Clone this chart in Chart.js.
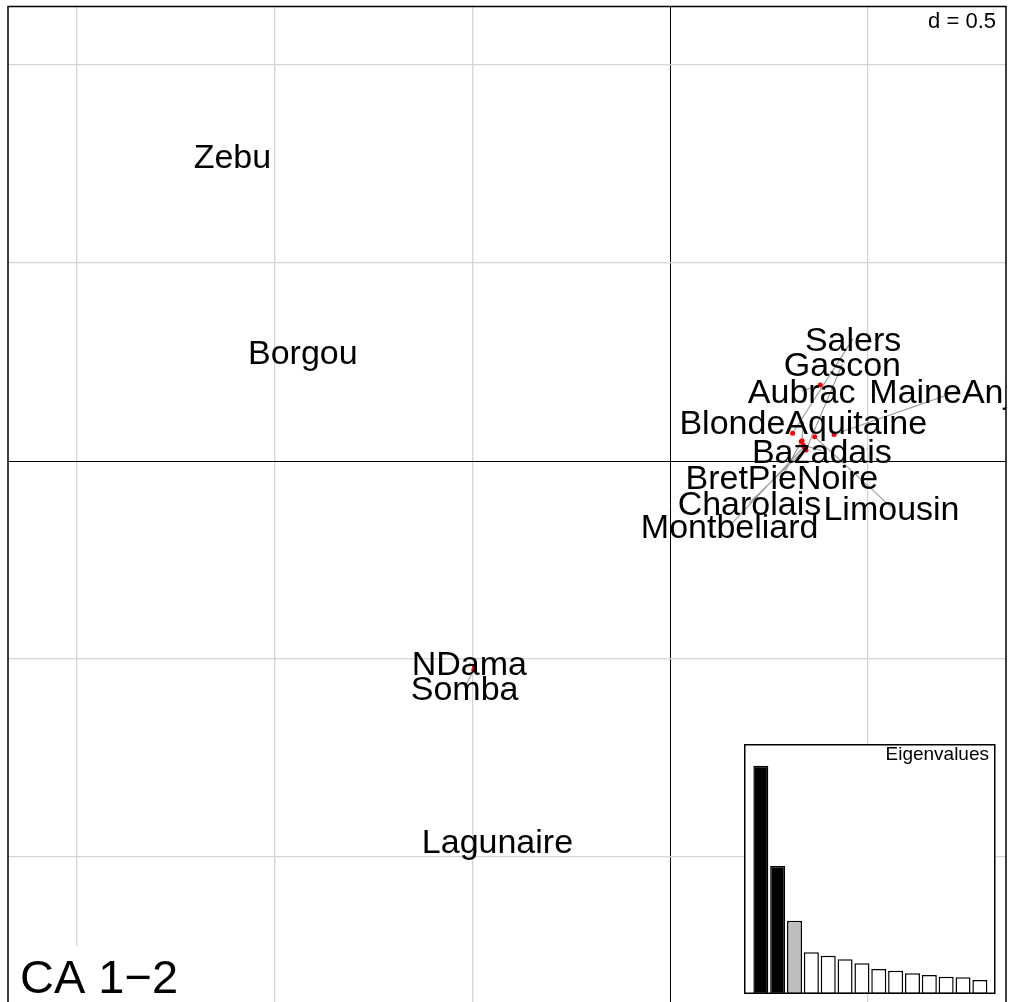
<!DOCTYPE html>
<html><head><meta charset="utf-8">
<script src="https://cdn.jsdelivr.net/npm/chart.js@4.4.0/dist/chart.umd.min.js"></script>
<style>
html,body{margin:0;padding:0;background:#fff;overflow:hidden;}
#wrap{position:relative;width:1010px;height:1010px;}
#main{position:absolute;left:0;top:0;}
#eig{position:absolute;left:744px;top:744px;}
</style></head><body>
<div id="wrap">
<canvas id="main" width="1010" height="1010"></canvas>
<canvas id="eig" width="252" height="250"></canvas>
</div>
<script>
// ---- data ----
const breeds = ['Zebu','Borgou','Salers','Gascon','Aubrac','MaineAnjou','BlondeAquitaine','Bazadais','BretPieNoire','Charolais','Limousin','Montbeliard','NDama','Somba','Lagunaire'];
const pointX = [-1.107,-0.929, 0.309, 0.343, 0.379, 0.414, 0.333, 0.336, 0.331, 0.341, 0.365, 0.338,-0.495,-0.497,-0.437];
const pointY = [ 0.770, 0.275, 0.070, 0.028, 0.192, 0.067, 0.051, 0.040, 0.049, 0.030, 0.061, 0.036,-0.521,-0.528,-0.960];
const labelX = [-1.107,-0.929, 0.462, 0.435, 0.332, 0.730, 0.336, 0.383, 0.282, 0.200, 0.559, 0.150,-0.508,-0.520,-0.437];
const labelY = [ 0.770, 0.275, 0.309, 0.245, 0.177, 0.177, 0.100, 0.026,-0.040,-0.105,-0.117,-0.164,-0.509,-0.572,-0.960];
const gridX = [-1.5,-1,-0.5,0,0.5];
const gridY = [-1,-0.5,0,0.5,1];
const xRange = [-1.6742, 0.8485];
const yRange = [-1.3737, 1.1477];
const gridLabel = 'd = 0.5';
const axesTitle = 'CA 1\u22122';
const eigenTitle = 'Eigenvalues';
const eigenLabels = ['1','2','3','4','5','6','7','8','9','10','11','12','13','14'];
const eigenvalues = [0.913,0.512,0.293,0.167,0.153,0.139,0.123,0.100,0.093,0.083,0.076,0.069,0.067,0.056];

const FONT = "'Liberation Sans', Arial, Helvetica, sans-serif";

// segments from point to label (only when the label was moved off its point)
const moved = breeds.map((b,i)=> pointX[i]!==labelX[i] || pointY[i]!==labelY[i]);
const segData = [];
breeds.forEach((b,i)=>{
  if (moved[i]) segData.push({x:pointX[i],y:pointY[i]},{x:labelX[i],y:labelY[i]},{x:NaN,y:NaN});
});
const ptData = breeds.map((b,i)=>({x:pointX[i],y:pointY[i]}));

const labelPlugin = {
  id:'labels',
  afterDatasetsDraw(chart){
    const {ctx, chartArea:a, scales:{x,y}} = chart;
    ctx.save();
    ctx.beginPath(); ctx.rect(a.left,a.top,a.right-a.left,a.bottom-a.top); ctx.clip();
    ctx.fillStyle='#000';
    ctx.font = '34px ' + FONT;
    ctx.textAlign='center'; ctx.textBaseline='alphabetic';
    breeds.forEach((b,i)=>{
      ctx.fillText(b, x.getPixelForValue(labelX[i]), y.getPixelForValue(labelY[i]) + 0.358*34);
    });
    ctx.restore();
  },
  afterDraw(chart){
    const {ctx, chartArea:a} = chart;
    ctx.save();
    ctx.font = '22px ' + FONT;
    const w1 = ctx.measureText(gridLabel).width;
    ctx.fillStyle='#fff';
    ctx.fillRect(a.right-w1-14, a.top, w1+14, 28);
    ctx.fillStyle='#000'; ctx.textAlign='right'; ctx.textBaseline='alphabetic';
    ctx.fillText(gridLabel, a.right-10, 27.5);
    ctx.font = '47px ' + FONT;
    const w2 = ctx.measureText(axesTitle).width;
    ctx.fillStyle='#fff';
    ctx.fillRect(a.left, 946, w2+26, a.bottom-946);
    ctx.fillStyle='#000'; ctx.textAlign='left';
    ctx.fillText(axesTitle, 20, 993);
    ctx.strokeStyle='#000'; ctx.lineWidth=1.5;
    ctx.strokeRect(a.left, a.top, a.right-a.left, a.bottom-a.top);
    ctx.restore();
  }
};

function gridColor(c){ return (c.tick && c.tick.value===0) ? '#000000' : '#d4d4d4'; }
function gridWidth(c){ return (c.tick && c.tick.value===0) ? 1 : 1.3; }

new Chart(document.getElementById('main'), {
  type:'scatter',
  data:{datasets:[
    {data:ptData, pointRadius:c=> moved[c.dataIndex] ? 2.5 : 0, pointBackgroundColor:'#ff0000', pointBorderColor:'#ff0000', pointBorderWidth:0, showLine:false},
    {data:segData, showLine:true, borderColor:'#9e9e9e', borderWidth:1.2, pointRadius:0, spanGaps:false}
  ]},
  options:{
    responsive:false, animation:false, events:[],
    layout:{padding:{left:8, top:6.5, right:3, bottom:5}},
    plugins:{legend:{display:false}, tooltip:{enabled:false}},
    scales:{
      x:{type:'linear', min:xRange[0], max:xRange[1],
         afterBuildTicks:s=>{ s.ticks = gridX.map(v=>({value:v})); },
         ticks:{display:false}, grid:{color:gridColor, lineWidth:gridWidth, drawTicks:false}, border:{display:false}},
      y:{type:'linear', min:yRange[0], max:yRange[1],
         afterBuildTicks:s=>{ s.ticks = gridY.map(v=>({value:v})); },
         ticks:{display:false}, grid:{color:gridColor, lineWidth:gridWidth, drawTicks:false}, border:{display:false}}
    }
  },
  plugins:[labelPlugin]
});

const insetPlugin = {
  id:'inset',
  beforeDraw(chart){
    const ctx = chart.ctx;
    ctx.save(); ctx.fillStyle='#fff'; ctx.fillRect(0,0,chart.width,chart.height); ctx.restore();
  },
  afterDraw(chart){
    const ctx = chart.ctx;
    ctx.save();
    ctx.strokeStyle='#000'; ctx.lineWidth=1.5;
    ctx.strokeRect(0.75,0.75,chart.width-2,chart.height-1.5);
    ctx.fillStyle='#000'; ctx.font='19px '+FONT; ctx.textAlign='right'; ctx.textBaseline='alphabetic';
    ctx.fillText(eigenTitle, 245, 16);
    ctx.restore();
  }
};

new Chart(document.getElementById('eig'), {
  type:'bar',
  data:{labels:eigenLabels, datasets:[{
    data:eigenvalues,
    backgroundColor:eigenvalues.map((v,i)=> i<2 ? '#000000' : (i===2 ? '#bebebe' : '#ffffff')),
    borderColor:'#000', borderWidth:1.5, borderSkipped:false,
    barPercentage:1, categoryPercentage:0.89
  }]},
  options:{
    responsive:false, animation:false, events:[],
    layout:{padding:{left:8.4, right:7.7, top:0, bottom:0}},
    plugins:{legend:{display:false}, tooltip:{enabled:false}},
    scales:{x:{display:false}, y:{display:false, min:0, max:1}}
  },
  plugins:[insetPlugin]
});
</script>
</body></html>
